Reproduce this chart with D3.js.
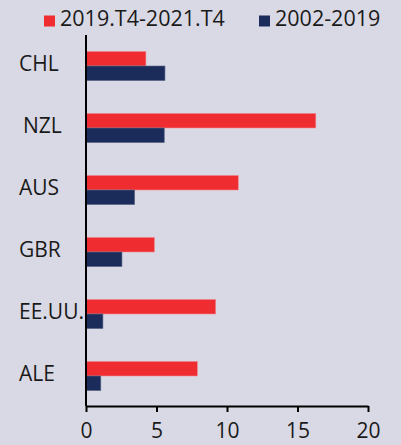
<!DOCTYPE html>
<html>
<head>
<meta charset="utf-8">
<script src="https://cdn.jsdelivr.net/npm/d3@7"></script>
<style>
  html, body { margin: 0; padding: 0; background: #d9d9e5; }
  svg { display: block; font-family: "Open Sans", sans-serif; }
</style>
</head>
<body>
<div id="chart"></div>
<script>
var countries = ["CHL", "NZL", "AUS", "GBR", "EE.UU.", "ALE"];
var seriesNames = ["2019.T4-2021.T4", "2002-2019"];
var recent = [4.25, 16.3, 10.8, 4.85, 9.2, 7.9];
var longRun = [5.6, 5.55, 3.45, 2.55, 1.2, 1.05];
var xTicks = [0, 5, 10, 15, 20];

var width = 401,
  height = 445,
  plotLeft = 86,
  plotRight = 368,
  plotTop = 35,
  plotBottom = 406;

var colors = ["#ef2d30", "#1c2c5a"];

var data = countries.map((c, i) => ({ name: c, values: [recent[i], longRun[i]] }));

var svg = d3.select('#chart').
  append('svg').
  attr('width', width).
  attr('height', height);

var xScale = d3.scaleLinear().
  domain([0, 20]).
  range([plotLeft, plotRight]);

var yScale = d3.scaleBand().
  domain(countries).
  range([plotTop, plotBottom + 1]).
  paddingInner(0.53).
  paddingOuter(0.265);

var ySub = d3.scaleBand().
  domain([0, 1]).
  range([0, yScale.bandwidth()]);

// bars
var groups = svg.selectAll('g.country').
  data(data).
  enter().
  append('g').
  attr('class', 'country').
  attr('transform', d => 'translate(0,' + yScale(d.name) + ')');

groups.selectAll('rect').
  data(d => d.values).
  enter().
  append('rect').
  attr('x', xScale(0)).
  attr('y', (d, i) => ySub(i)).
  attr('width', d => xScale(d) - xScale(0)).
  attr('height', ySub.bandwidth()).
  attr('fill', (d, i) => colors[i]).
  attr('stroke', (d, i) => i == 0 ? '#f08a92' : '#5a6688').
  attr('stroke-width', 0.6);

// category labels
svg.selectAll('text.cat').
  data(countries).
  enter().
  append('text').
  attr('class', 'cat').
  attr('x', d => d == 'NZL' ? 23 : 19).
  attr('y', d => yScale(d) + yScale.bandwidth() / 2 + 5).
  attr('font-size', '21px').
  attr('fill', '#1a1a1a').
  text(d => d);

// x axis
var xAxis = d3.axisBottom(xScale).
  tickValues(xTicks).
  tickSize(6).
  tickSizeOuter(0).
  tickFormat(d3.format('d'));

var gx = svg.append('g').
  attr('transform', 'translate(0,' + plotBottom + ')').
  call(xAxis);
gx.select('.domain').attr('stroke', '#000').attr('stroke-width', 2);
gx.selectAll('.tick line').attr('stroke', '#000').attr('stroke-width', 2);
gx.selectAll('.tick text').
  attr('font-size', '21px').
  attr('font-family', '"Open Sans", sans-serif').
  attr('fill', '#1a1a1a').
  attr('dy', '1.08em');

// y axis line
svg.append('line').
  attr('x1', plotLeft).
  attr('x2', plotLeft).
  attr('y1', plotTop).
  attr('y2', plotBottom).
  attr('stroke', '#000').
  attr('stroke-width', 2);

// legend
var legendX = [44, 259];
var legend = svg.selectAll('g.legend').
  data(seriesNames).
  enter().
  append('g').
  attr('class', 'legend').
  attr('transform', (d, i) => 'translate(' + legendX[i] + ',0)');

legend.append('rect').
  attr('x', 0).
  attr('y', 15.5).
  attr('width', 11).
  attr('height', 11).
  attr('fill', (d, i) => colors[i]);

legend.append('text').
  attr('x', 16).
  attr('y', 26).
  attr('font-size', '21.5px').
  attr('fill', '#1a1a1a').
  text(d => d);
</script>
</body>
</html>
